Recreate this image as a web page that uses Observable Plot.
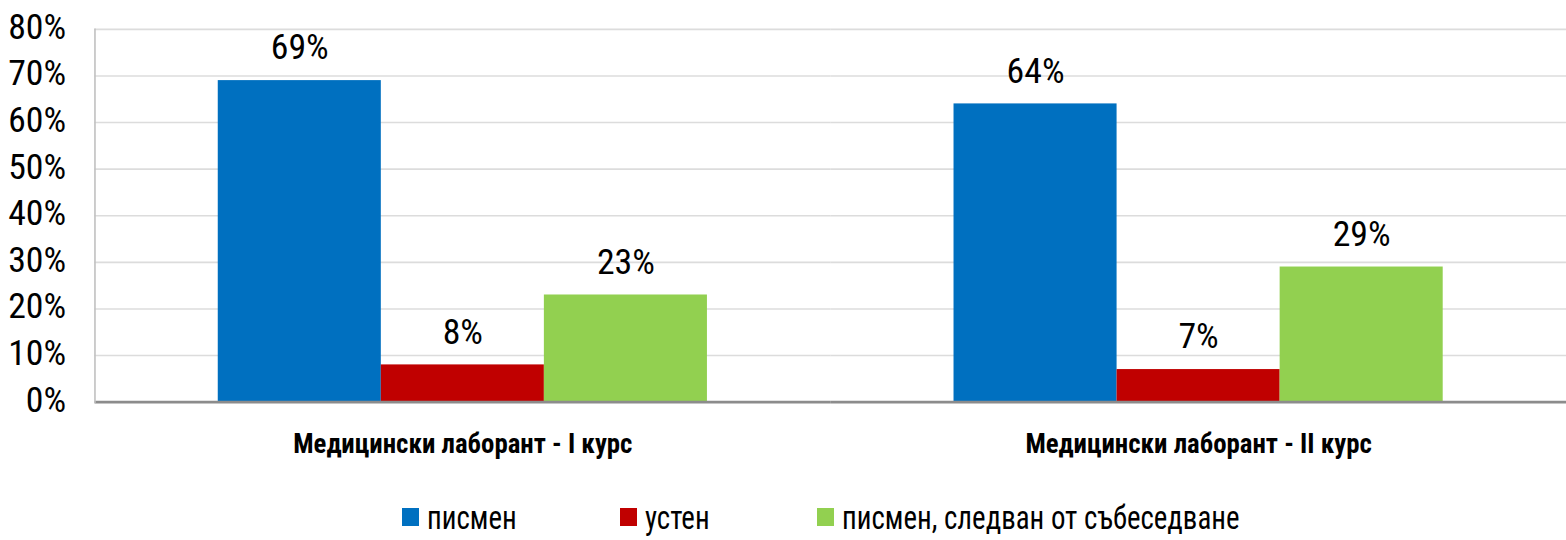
<!DOCTYPE html>
<html><head><meta charset="utf-8">
<script src="https://cdn.jsdelivr.net/npm/d3@7"></script>
<script src="https://cdn.jsdelivr.net/npm/@observablehq/plot@0.6"></script>
<style>
html,body{margin:0;background:#fff;overflow:hidden;width:1566px;height:540px;font-family:"Liberation Sans Narrow","Arial Narrow","Roboto Condensed","Liberation Sans",sans-serif;}
#chart{width:1566px;overflow:hidden}
#legend{position:relative;height:40px;margin-top:25px;font-size:34px;color:#000}
#legend .it{position:absolute;top:0;height:40px;display:flex;align-items:center;white-space:nowrap}
#legend .sw{width:17px;height:18px;margin-right:8px;flex:none}
#legend span{display:inline-block;transform:scaleX(0.85);transform-origin:left center}
</style></head>
<body><div id="chart"></div><div id="legend"></div>
<script>
const groups = ["Медицински лаборант - I курс", "Медицински лаборант - II курс"];
const series = ["писмен", "устен", "писмен, следван от събеседване"];
const colors = ["#0070C0", "#C00000", "#92D050"];
const valuesI = [69, 8, 23];
const valuesII = [64, 7, 29];
const yTicks = [0, 10, 20, 30, 40, 50, 60, 70, 80];
const legendLeft = [402, 620, 817];

const data = [];
series.forEach((s, i) => {
  data.push({group: groups[0], series: s, value: valuesI[i]});
  data.push({group: groups[1], series: s, value: valuesII[i]});
});
const font = '"Liberation Sans Narrow","Arial Narrow","Roboto Condensed","Liberation Sans",sans-serif';

const plot = Plot.plot({
  width: 1575, height: 475,
  marginLeft: 95, marginRight: 0, marginTop: 29, marginBottom: 71,
  style: {fontFamily: font, color: "#000", background: "#fff", overflow: "visible"},
  fx: {domain: groups, padding: 0, label: null, axis: null},
  x: {domain: series, paddingInner: 0, paddingOuter: 0.749, axis: null},
  y: {domain: [0, 80], axis: null},
  color: {domain: series, range: colors},
  marks: [
    Plot.gridY(yTicks, {stroke: "#dcdcdc", strokeOpacity: 1, strokeWidth: 1.6}),
    Plot.barY(data, {fx: "group", x: "series", y: "value", fill: "series"}),
    Plot.ruleY([0], {stroke: "#8c8c8c", strokeWidth: 2.7}),
    Plot.frame({anchor: "left", facetAnchor: "left", stroke: "#c0c0c0", strokeWidth: 1.6}),
    Plot.text(data, {fx: "group", x: "series", y: "value", text: d => d.value + "%", dy: -33, fontSize: 36, fill: "#000"}),
    Plot.axisY({ticks: yTicks, tickFormat: d => d + "%", tickSize: 0, tickPadding: 29, dy: -2, fontSize: 36, label: null}),
    Plot.axisFx({anchor: "bottom", tickSize: 0, tickPadding: 32, fontSize: 27, fontWeight: "bold", label: null})
  ]
});
document.getElementById("chart").appendChild(plot);

const leg = document.getElementById("legend");
series.forEach((s, i) => {
  const it = document.createElement("div"); it.className = "it"; it.style.left = legendLeft[i] + "px";
  const sw = document.createElement("div"); sw.className = "sw"; sw.style.background = colors[i];
  const t = document.createElement("span"); t.textContent = s;
  it.appendChild(sw); it.appendChild(t); leg.appendChild(it);
});
</script></body></html>
